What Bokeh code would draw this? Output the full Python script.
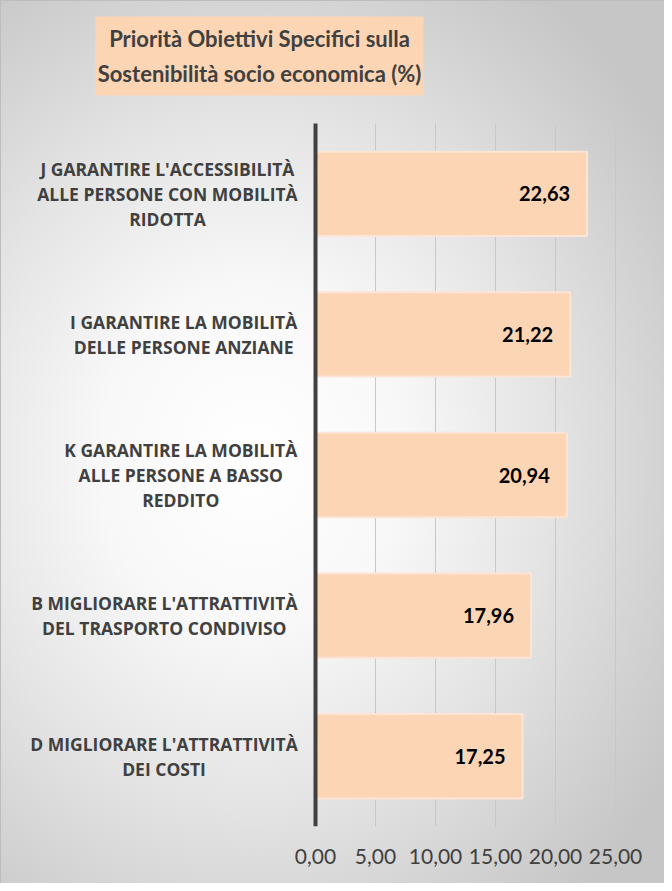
from bokeh.plotting import figure
from bokeh.models import Range1d, FixedTicker, ColumnDataSource
from bokeh.embed import file_html
from bokeh.resources import INLINE
from bokeh.core.properties import value

# ---- data ----
categories = [
    "D MIGLIORARE L'ATTRATTIVITÀ\nDEI COSTI",
    "B MIGLIORARE L'ATTRATTIVITÀ\nDEL TRASPORTO CONDIVISO",
    "K GARANTIRE LA MOBILITÀ\nALLE PERSONE A BASSO\nREDDITO",
    "I GARANTIRE LA MOBILITÀ\nDELLE PERSONE ANZIANE",
    "J GARANTIRE L'ACCESSIBILITÀ\nALLE PERSONE CON MOBILITÀ\nRIDOTTA",
]
values = [17.25, 17.96, 20.94, 21.22, 22.63]
x_ticks = [0, 5, 10, 15, 20, 25]
title_text = "Priorità Obiettivi Specifici sulla\nSostenibilità socio economica (%)"

def it_fmt(v):
    return f"{v:.2f}".replace(".", ",")

# ---- layout constants (data units of the plotting frame) ----
PX_PER_X = 12.0                   # pixels per value unit
X_MIN, X_MAX = -26.25, 29.08      # frame spans the whole chart width; axis zero sits 315px in
Y_MIN, Y_MAX = -0.5, 5.375        # bars occupy -0.5..4.5; room above for the title
CAT_TOP = 4.5
LABEL_RIGHT = -1.67               # right edge of the category-label blocks
TITLE_BOX = dict(left=-18.33, right=9.0, bottom=4.699, top=5.261)
TITLE_X, TITLE_Y = -4.67, 4.98

FONT = "Lato"
LABEL_FONT = "Open Sans"
LABEL_SIZE = 17.5

# approximate advance widths (em) of Open Sans Bold capitals, to right-align
# each label block while keeping its lines centred (as in the original)
_W = {'A': .68, 'B': .68, 'C': .63, 'D': .71, 'E': .56, 'F': .54, 'G': .71, 'H': .76,
      'I': .33, 'J': .32, 'K': .66, 'L': .56, 'M': .90, 'N': .77, 'O': .76, 'P': .64,
      'Q': .76, 'R': .66, 'S': .57, 'T': .57, 'U': .75, 'V': .65, 'Z': .58, 'À': .68,
      ' ': .26, "'": .22}

def block_width_px(s):
    return max(sum(_W.get(c, .6) for c in line) for line in s.split("\n")) * LABEL_SIZE

label_x = [LABEL_RIGHT - block_width_px(c) / 2 / PX_PER_X for c in categories]

pos = list(range(len(categories)))
source = ColumnDataSource(dict(
    y=pos, cat=categories, val=values, lab=[it_fmt(v) for v in values], lx=label_x,
))

p = figure(
    width=664, height=883,
    x_range=Range1d(X_MIN, X_MAX), y_range=Range1d(Y_MIN, Y_MAX),
    output_backend="svg", toolbar_location=None,
    min_border_left=0, min_border_right=0, min_border_top=0, min_border_bottom=57,
)
p.border_fill_color = None
p.background_fill_color = None
p.outline_line_color = None
p.styles = {
    "background": "radial-gradient(ellipse 75% 65% at 38% 52%, #ffffff 0%, #f8f8f8 30%, #e4e4e4 60%, #cdcdcd 90%, #c6c6c6 100%)",
    "box-shadow": "inset 1px 1px 0 0 #bdbdbd",
}

# vertical gridlines, limited to the category area
n_g = len(x_ticks) - 1
p.segment(x0=x_ticks[1:], x1=x_ticks[1:], y0=[Y_MIN] * n_g, y1=[CAT_TOP] * n_g,
          line_color="#c8c8c8", line_width=1)

# bars
p.hbar(y="y", right="val", height=0.6, left=0, source=source,
       fill_color="#FCD5B4", line_color="#FCE4D6", line_width=2)

# value axis line at zero
p.segment(x0=[0], x1=[0], y0=[Y_MIN], y1=[CAT_TOP], line_color="#404040", line_width=4)

# value labels
p.text(x="val", y="y", text="lab", source=source, x_offset=-17,
       text_align="right", text_baseline="middle",
       text_font=value(FONT), text_font_style="bold", text_font_size="20px",
       text_color="#000000")

# category labels
p.text(x="lx", y="y", text="cat", source=source,
       text_align="center", text_baseline="middle",
       text_font=value(LABEL_FONT), text_font_style="bold",
       text_font_size=f"{LABEL_SIZE}px", text_color="#404040", text_line_height=1.03)

# title box and text
p.quad(left=[TITLE_BOX["left"]], right=[TITLE_BOX["right"]],
       bottom=[TITLE_BOX["bottom"]], top=[TITLE_BOX["top"]],
       fill_color="#FCD5B4", line_color=None)
p.text(x=[TITLE_X], y=[TITLE_Y], text=[title_text],
       text_align="center", text_baseline="middle",
       text_font=value(FONT), text_font_style="bold", text_font_size="22px",
       text_color="#404040", text_line_height=1.33)

# x axis
p.xaxis.ticker = FixedTicker(ticks=x_ticks)
p.xaxis.major_label_overrides = {t: it_fmt(t) for t in x_ticks}
p.xaxis.axis_line_color = None
p.xaxis.major_tick_line_color = None
p.xaxis.minor_tick_line_color = None
p.xaxis.major_label_standoff = 16
p.xaxis.major_label_text_font = FONT
p.xaxis.major_label_text_font_size = "21px"
p.xaxis.major_label_text_color = "#404040"

p.yaxis.visible = False
p.grid.grid_line_color = None

open("out.html", "w").write(file_html(p, INLINE))
